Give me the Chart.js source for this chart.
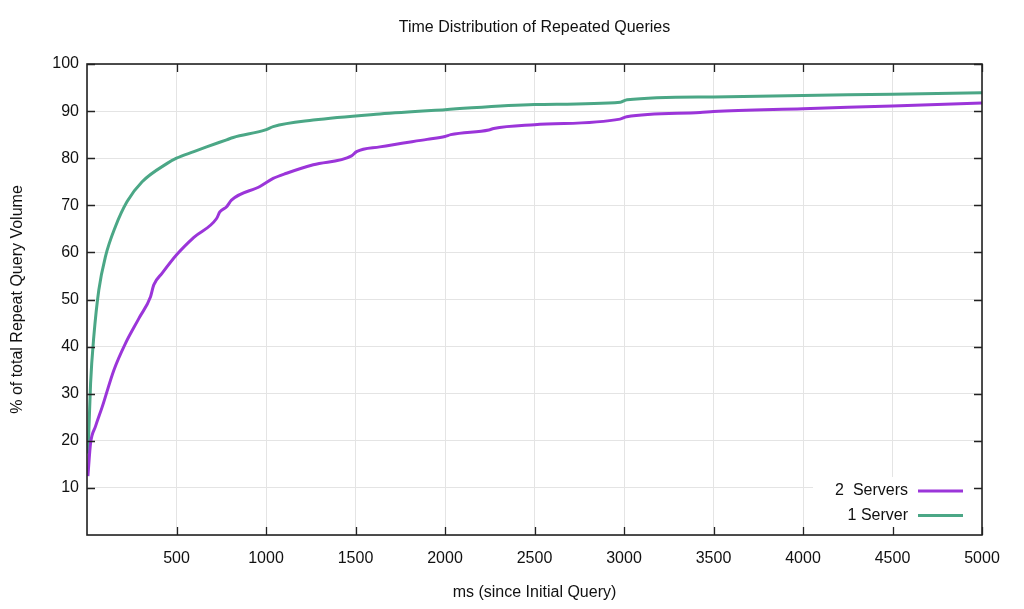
<!DOCTYPE html>
<html>
<head>
<meta charset="utf-8">
<script src="https://cdn.jsdelivr.net/npm/chart.js@4.4.1/dist/chart.umd.min.js"></script>
<style>
  html, body { margin: 0; padding: 0; background: #fff; }
  #wrap { width: 1024px; height: 609px; position: relative; }
</style>
</head>
<body>
<div id="wrap"><canvas id="c" width="1024" height="609"></canvas></div>
<script>
const chartTitle = "Time Distribution of Repeated Queries";
const xTitle = "ms (since Initial Query)";
const yTitle = "% of total Repeat Query Volume";

const seriesLabels = ["2  Servers", "1 Server"];
const seriesColors = ["#9b35d9", "#4ba786"];

// 2 Servers
const twoX = [5, 20, 47, 85, 150, 215, 290, 355, 373, 420, 503, 597, 724, 742, 780, 807, 966, 1040, 1115, 1264, 1478, 1506, 1636, 1900, 2000, 2032, 2245, 2272, 2500, 2978, 3015, 3425, 3500, 4000, 4500, 5000];
const twoY = [12.5, 19.5, 23, 27.2, 35, 40.7, 46, 50.6, 53.1, 55.6, 59.6, 63.2, 67.2, 68.6, 69.7, 71.1, 74, 75.7, 76.8, 78.6, 80.5, 81.4, 82.4, 84.0, 84.6, 85.0, 86.0, 86.3, 87.1, 88.3, 88.8, 89.7, 89.9, 90.5, 91.1, 91.7];

// 1 Server
const oneX = [5, 10, 20, 38, 66, 103, 159, 224, 308, 448, 500, 597, 668, 780, 817, 997, 1040, 1264, 1636, 2000, 2500, 2980, 3017, 3500, 4000, 4500, 5000];
const oneY = [17.3, 21.7, 32.2, 42.1, 52, 59.1, 65.5, 70.8, 75, 78.9, 80, 81.4, 82.4, 83.9, 84.4, 86, 86.7, 88.1, 89.4, 90.3, 91.4, 91.9, 92.4, 93.0, 93.3, 93.6, 93.9];

const xTicks = [500, 1000, 1500, 2000, 2500, 3000, 3500, 4000, 4500, 5000];
const yTicks = [10, 20, 30, 40, 50, 60, 70, 80, 90, 100];

const FONT = "'Liberation Sans', Arial, sans-serif";
const FS = 16;

function pts(xs, ys) { return xs.map((x, i) => ({ x: x, y: ys[i] })); }

const gnuplotDecor = {
  id: 'gnuplotDecor',
  afterDatasetsDraw(chart) {
    const ctx = chart.ctx;
    const a = chart.chartArea;
    const xs = chart.scales.x, ys = chart.scales.y;
    ctx.save();
    // legend background
    ctx.fillStyle = '#fff';
    ctx.fillRect(813, 477, a.right - 813 - 1, a.bottom - 477 - 1);
    // inward ticks
    ctx.strokeStyle = '#222';
    ctx.lineWidth = 1.3;
    const tl = 8;
    ctx.beginPath();
    xTicks.forEach(v => {
      const px = Math.round(xs.getPixelForValue(v)) + 0.5;
      ctx.moveTo(px, a.bottom); ctx.lineTo(px, a.bottom - tl);
      ctx.moveTo(px, a.top); ctx.lineTo(px, a.top + tl);
    });
    yTicks.forEach(v => {
      const py = Math.round(ys.getPixelForValue(v)) + 0.5;
      ctx.moveTo(a.left, py); ctx.lineTo(a.left + tl, py);
      ctx.moveTo(a.right, py); ctx.lineTo(a.right - tl, py);
    });
    ctx.stroke();
    // border
    ctx.lineWidth = 1.6;
    ctx.strokeRect(a.left, a.top, a.right - a.left, a.bottom - a.top);
    // legend
    ctx.font = FS + 'px ' + FONT;
    ctx.textAlign = 'right';
    ctx.textBaseline = 'middle';
    const rows = [491, 515.5];
    chart.data.datasets.forEach((ds, i) => {
      ctx.fillStyle = '#111';
      ctx.fillText(ds.label, 908, rows[i]);
      ctx.strokeStyle = ds.borderColor;
      ctx.lineWidth = 3;
      ctx.beginPath();
      ctx.moveTo(918, rows[i]); ctx.lineTo(963, rows[i]);
      ctx.stroke();
    });
    // titles
    ctx.fillStyle = '#111';
    ctx.textAlign = 'center';
    ctx.fillText(chartTitle, (a.left + a.right) / 2, 28);
    ctx.fillText(xTitle, (a.left + a.right) / 2, 593);
    ctx.translate(18, (a.top + a.bottom) / 2);
    ctx.rotate(-Math.PI / 2);
    ctx.fillText(yTitle, 0, 0);
    ctx.restore();
  }
};

new Chart(document.getElementById('c'), {
  type: 'scatter',
  data: {
    datasets: [
      { label: seriesLabels[0], data: pts(twoX, twoY), borderColor: seriesColors[0], backgroundColor: seriesColors[0],
        showLine: true, pointRadius: 0, borderWidth: 3, cubicInterpolationMode: 'monotone', fill: false },
      { label: seriesLabels[1], data: pts(oneX, oneY), borderColor: seriesColors[1], backgroundColor: seriesColors[1],
        showLine: true, pointRadius: 0, borderWidth: 3, cubicInterpolationMode: 'monotone', fill: false }
    ]
  },
  options: {
    responsive: false,
    animation: false,
    devicePixelRatio: 1,
    layout: { padding: { top: 64, right: 42, bottom: 0, left: 0 } },
    plugins: { legend: { display: false }, tooltip: { enabled: false }, title: { display: false } },
    scales: {
      x: {
        type: 'linear', min: 0, max: 5000,
        afterFit(s) { s.height = 74; },
        afterBuildTicks(s) { s.ticks = [0].concat(xTicks).map(v => ({ value: v })); },
        ticks: { padding: 14, color: '#111', font: { family: FONT, size: FS }, maxRotation: 0, autoSkip: false,
                 callback: v => v === 0 ? '' : String(v) },
        grid: { color: '#e4e4e4', lineWidth: 1, drawTicks: false },
        border: { display: false }
      },
      y: {
        type: 'linear', min: 0, max: 100,
        afterFit(s) { s.width = 87; },
        afterBuildTicks(s) { s.ticks = [0].concat(yTicks).map(v => ({ value: v })); },
        ticks: { padding: 8, color: '#111', font: { family: FONT, size: FS }, autoSkip: false,
                 callback: v => v === 0 ? '' : String(v) },
        grid: { color: '#e4e4e4', lineWidth: 1, drawTicks: false },
        border: { display: false }
      }
    }
  },
  plugins: [gnuplotDecor]
});
</script>
</body>
</html>
